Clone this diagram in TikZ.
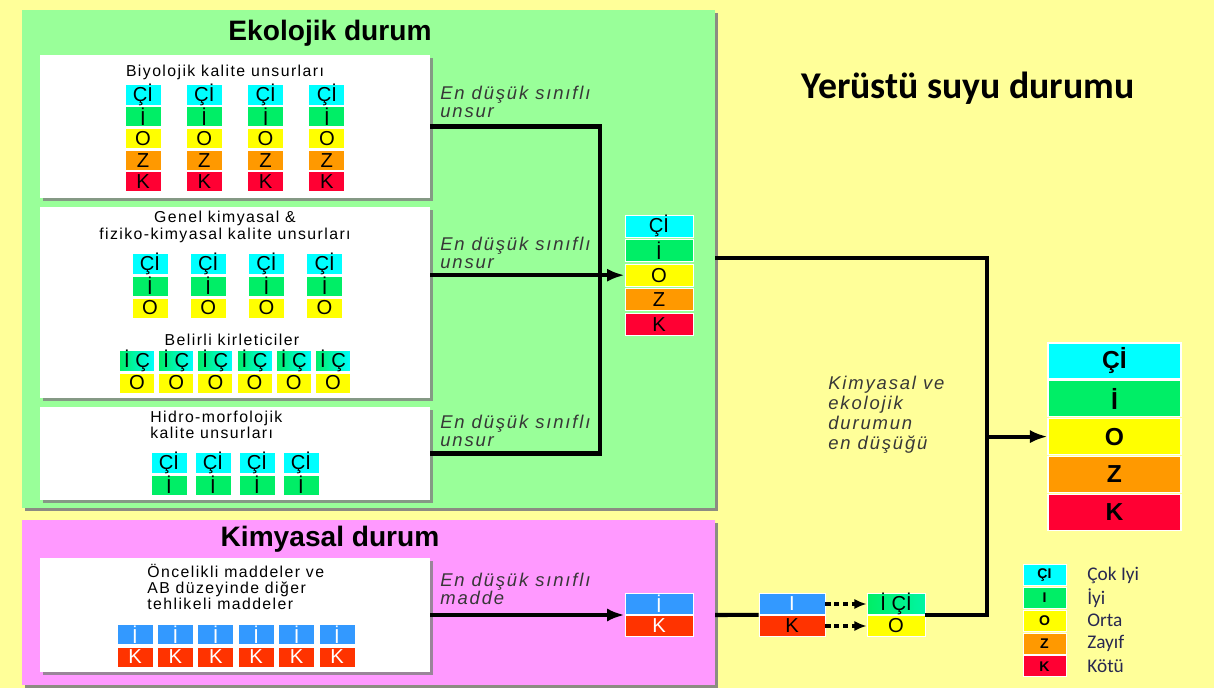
\documentclass[tikz,border=0pt]{standalone}
\usepackage{fontspec}
\setmainfont{Liberation Sans}
\newfontfamily\calibri{Carlito}
\newfontfamily\spaced[LetterSpace=9]{Liberation Sans}
\newfontfamily\spacedit[LetterSpace=10]{Liberation Sans}
\usetikzlibrary{arrows.meta,shadows}

\definecolor{bgyellow}{RGB}{255,255,153}
\definecolor{ecogreen}{RGB}{153,255,153}
\definecolor{chempink}{RGB}{255,153,255}
\definecolor{qcyan}{RGB}{0,255,255}
\definecolor{qgreen}{RGB}{0,238,102}
\definecolor{qyellow}{RGB}{255,255,0}
\definecolor{qorange}{RGB}{255,153,0}
\definecolor{qred}{RGB}{255,0,51}
\definecolor{qblue}{RGB}{51,153,255}
\definecolor{qredk}{RGB}{255,51,0}
\definecolor{labelgray}{RGB}{55,55,55}
\definecolor{legendtext}{RGB}{40,40,80}

\tikzset{
  panel/.style={inner sep=0, drop shadow={shadow xshift=1.8pt, shadow yshift=-1.5pt, fill=gray, opacity=.9}},
  whitebox/.style={fill=white, inner sep=0, minimum width=7.8cm, drop shadow={shadow xshift=1.5pt, shadow yshift=-1.8pt, fill=gray, opacity=.8}},
  paneltitle/.style={font=\bfseries\fontsize{16}{18}\selectfont, inner sep=0},
  boxtitle/.style={font=\spaced\fontsize{9}{9.2}\selectfont, align=center, inner sep=0},
  lowlab/.style={font=\spacedit\itshape\fontsize{10.5}{10.2}\selectfont, text=labelgray, align=left, anchor=west, inner sep=0},
  cell/.style={draw=white, line width=0.5pt, inner sep=0, minimum width=0.72cm, minimum height=0.4cm, font=\fontsize{11.5}{11.5}\selectfont},
  bigcell/.style={draw=white, line width=0.6pt, inner sep=0, minimum width=2.66cm, minimum height=0.72cm, font=\bfseries\fontsize{14}{14}\selectfont},
  legcell/.style={draw=white, line width=0.4pt, inner sep=0, minimum width=0.86cm, minimum height=0.42cm, font=\bfseries\fontsize{8}{8}\selectfont},
  legtext/.style={font=\calibri\fontsize{11}{12}\selectfont, text=legendtext, anchor=west, inner sep=0},
  flow/.style={line width=2.3pt},
  arrowtip/.style={-{Latex[length=10pt,width=7.5pt]}},
  dashflow/.style={line width=1.8pt, dash pattern=on 3pt off 2pt, -{Latex[length=7pt,width=6pt]}}
}

\begin{document}
\begin{tikzpicture}[x=0.02cm,y=-0.02cm]
    % Background
    \fill[bgyellow] (0,0) rectangle (1214,688);
    \useasboundingbox (0,0) rectangle (1214,688);

    % Ecological and chemical panels
    \node[panel, fill=ecogreen, minimum width=13.86cm, minimum height=9.96cm] (eco) at (368.5,259) {};
    \node[paneltitle] (ecot) at (330,33) {Ekolojik durum};
    \node[panel, fill=chempink, minimum width=13.86cm, minimum height=3.3cm] (kim) at (368.5,602.5) {};
    \node[paneltitle] (kimt) at (330,539) {Kimyasal durum};

    % White boxes
    \node[whitebox, minimum height=2.86cm] (bio) at (235,126.5) {};
    \node[whitebox, minimum height=3.82cm] (gen) at (235,302.5) {};
    \node[whitebox, minimum height=1.86cm] (hyd) at (235,453.5) {};
    \node[whitebox, minimum height=2.28cm] (prio) at (235,615) {};

    % Box titles
    \node[boxtitle] (biot) at (225,72) {Biyolojik kalite unsurları};
    \node[boxtitle] (gent) at (225,227) {Genel kimyasal \&\\fiziko-kimyasal kalite unsurları};
    \node[boxtitle] (kirt) at (232,340) {Belirli kirleticiler};
    \node[boxtitle, anchor=west, align=left] (hydt) at (150,425) {Hidro-morfolojik\\kalite unsurları};
    \node[boxtitle, anchor=west, align=left] (priot) at (147,587) {Öncelikli maddeler ve\\AB düzeyinde diğer\\tehlikeli maddeler};

    % Biological quality elements
    \foreach \c in {1,...,4}{
      \foreach \t/\col [count=\r] in {Çİ/qcyan,İ/qgreen,O/qyellow,Z/qorange,K/qred}
        \node[cell, fill=\col] (bio-\c-\r) at ({143+61.3*(\c-1)},{95+21.7*(\r-1)}) {\t};
    }

    % General chemical elements
    \foreach \c in {1,...,4}{
      \foreach \t/\col [count=\r] in {Çİ/qcyan,İ/qgreen,O/qyellow}
        \node[cell, fill=\col] (gen-\c-\r) at ({150+58.2*(\c-1)},{264+22*(\r-1)}) {\t};
    }

    % Specific pollutants
    \foreach \c in {1,...,6}{
      \node[cell, minimum width=0.7cm, left color=qgreen, right color=qcyan] (kir-\c-1) at ({137+39.2*(\c-1)},361) {İ Ç};
      \node[cell, minimum width=0.7cm, fill=qyellow] (kir-\c-2) at ({137+39.2*(\c-1)},383) {O};
    }

    % Hydromorphological elements
    \foreach \c in {1,...,4}{
      \node[cell, fill=qcyan] (hyd-\c-1) at ({169+44*(\c-1)},463) {Çİ};
      \node[cell, fill=qgreen] (hyd-\c-2) at ({169+44*(\c-1)},485) {İ};
    }

    % Priority substances
    \foreach \c in {1,...,6}{
      \node[cell, fill=qblue, text=white] (prio-\c-1) at ({135+40.4*(\c-1)},634.5) {İ};
      \node[cell, fill=qredk, text=white] (prio-\c-2) at ({135+40.4*(\c-1)},657) {K};
    }

    % Worst class labels
    \node[lowlab] (l-bio) at (440,102) {En düşük sınıflı\\unsur};
    \node[lowlab] (l-gen) at (440,252.5) {En düşük sınıflı\\unsur};
    \node[lowlab] (l-hyd) at (440,431) {En düşük sınıflı\\unsur};
    \node[lowlab] (l-prio) at (440,589) {En düşük sınıflı\\madde};

    % Ecological status
    \foreach \t/\col [count=\r] in {Çİ/qcyan,İ/qgreen,O/qyellow,Z/qorange,K/qred}
      \node[cell, minimum width=1.36cm, minimum height=0.44cm, fill=\col] (ecs-\r) at (659,{226+24.6*(\r-1)}) {\t};

    % Chemical status
    \node[cell, minimum width=1.36cm, minimum height=0.42cm, fill=qblue, text=white] (ik1-1) at (659,604) {İ};
    \node[cell, minimum width=1.36cm, minimum height=0.42cm, fill=qredk, text=white] (ik1-2) at (659,626) {K};
    \node[cell, minimum width=1.32cm, minimum height=0.42cm, fill=qblue, text=white] (ik2-1) at (792,604) {I};
    \node[cell, minimum width=1.32cm, minimum height=0.42cm, fill=qredk] (ik2-2) at (792,626) {K};
    \node[cell, minimum width=1.16cm, minimum height=0.42cm, left color=qgreen, right color=qcyan!40!qgreen] (mix-1) at (896,604) {İ Çİ};
    \node[cell, minimum width=1.16cm, minimum height=0.42cm, fill=qyellow] (mix-2) at (896,626) {O};

    % Surface water status
    \node[font=\calibri\bfseries\fontsize{21.5}{24}\selectfont] (wst) at (968,88) {Yerüstü suyu durumu};
    \foreach \t/\col [count=\r] in {Çİ/qcyan,İ/qgreen,O/qyellow,Z/qorange,K/qred}
      \node[bigcell, fill=\col] (ws-\r) at (1114.5,{361+37.8*(\r-1)}) {\t};
    \node[lowlab, font=\spacedit\itshape\fontsize{10.5}{11.3}\selectfont] (kvt) at (828,415) {Kimyasal ve\\ekolojik\\durumun\\en düşüğü};

    % Legend
    \foreach \t/\col/\lab [count=\r] in {ÇI/qcyan/Çok Iyi,I/qgreen/İyi,O/qyellow/Orta,Z/qorange/Zayıf,K/qred/Kötü}{
      \node[legcell, fill=\col] (leg-\r) at (1044.5,{575+22.8*(\r-1)}) {\t};
      \node[legtext] (legt-\r) at (1087,{575+22.8*(\r-1)}) {\lab};
    }

    % Connectors
    \coordinate (joint) at (600,275.2);
    \draw[flow] (bio.east) -| (joint);
    \draw[flow] (hyd.east) -| (joint);
    \draw[flow, arrowtip] (gen.east |- ecs-3.west) -- (ecs-3.west);
    \draw[flow, arrowtip] (prio.east) -- (prio.east -| ik1-1.west);

    \coordinate (ecoout) at (715,258);
    \coordinate (kimout) at (715,615);
    \coordinate (merge) at (987,436.6);
    \draw[flow] (ecoout) -| (merge);
    \draw[flow] (mix-1.south east) -| (merge);
    \draw[flow, arrowtip] (merge) -- (ws-3.west);
    \draw[flow] (kimout) -- (ik2-1.south west);
    \draw[dashflow] (ik2-1.east) -- (mix-1.west);
    \draw[dashflow] (ik2-2.east) -- (mix-2.west);
\end{tikzpicture}
\end{document}
